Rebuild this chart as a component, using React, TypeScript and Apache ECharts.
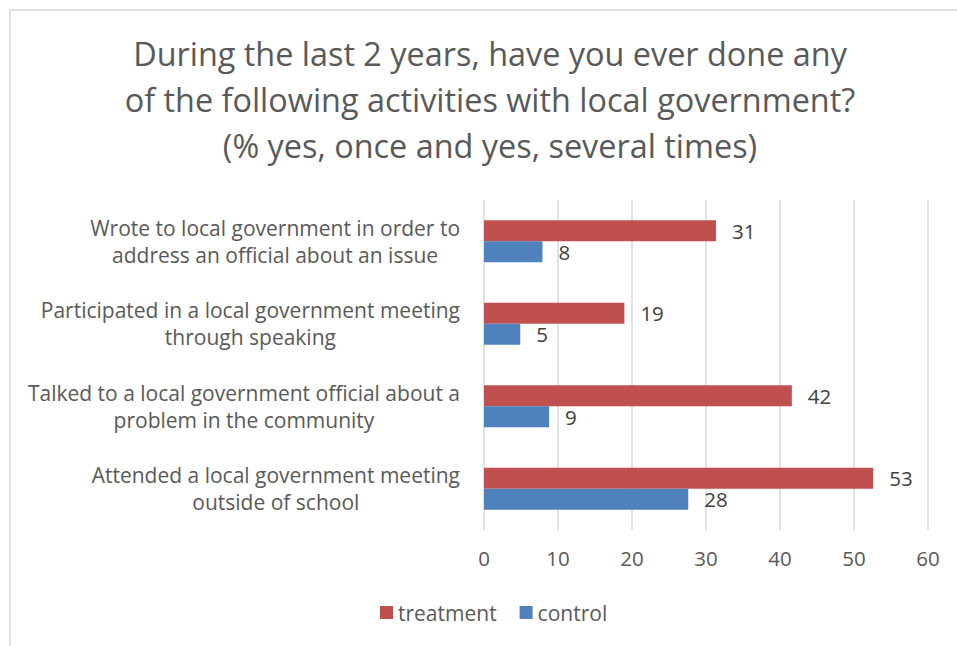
import React, { useEffect, useRef } from "react";
import * as echarts from "echarts";

const titleLines = [
  "During the last 2 years, have you ever done any",
  "of the following activities with local government?",
  "(% yes, once and yes, several times)",
];

const categories = [
  "Wrote to local government in order to\naddress an official about an issue",
  "Participated in a local government meeting\nthrough speaking",
  "Talked to a local government official about a\nproblem in the community",
  "Attended a local government meeting\noutside of school",
];

const treatment = [31.35, 18.97, 41.6, 52.6];
const control = [7.9, 4.9, 8.8, 27.6];

const xTicks = { min: 0, max: 60, interval: 10 };

const FONT = "'Open Sans', 'Noto Sans', sans-serif";

export default function App() {
  const ref = useRef<HTMLDivElement>(null);
  useEffect(() => {
    if (!ref.current) return;
    const chart = echarts.init(ref.current, undefined, { renderer: "svg" });
    chart.setOption({
      animation: false,
      backgroundColor: "#ffffff",
      textStyle: { fontFamily: FONT },
      title: {
        text: titleLines.join("\n"),
        left: 485,
        textAlign: "center",
        top: 25,
        textStyle: {
          fontFamily: FONT,
          fontSize: 32.4,
          fontWeight: "normal",
          color: "#595959",
          lineHeight: 46,
        },
      },
      graphic: [
        {
          type: "rect",
          shape: { x: 10, y: 10, width: 1000, height: 1000 },
          style: { fill: "none", stroke: "#d9d9d9", lineWidth: 1.5 },
          silent: true,
          z: -1,
        },
      ],
      legend: {
        left: 380,
        top: 602,
        padding: 0,
        itemWidth: 13,
        itemHeight: 13,
        itemGap: 23,
        icon: "rect",
        textStyle: { fontFamily: FONT, fontSize: 21, color: "#595959" },
        data: ["treatment", "control"],
      },
      grid: { left: 484, right: 29, top: 200, bottom: 116, containLabel: false },
      xAxis: {
        type: "value",
        min: xTicks.min,
        max: xTicks.max,
        interval: xTicks.interval,
        axisLine: { show: false },
        axisTick: { show: false },
        splitLine: { lineStyle: { color: "#d9d9d9", width: 1.5 } },
        axisLabel: { fontFamily: FONT, fontSize: 20.5, color: "#595959", margin: 17 },
      },
      yAxis: {
        type: "category",
        inverse: true,
        data: categories,
        axisLine: { show: false },
        axisTick: { show: false },
        axisLabel: {
          margin: 24,
          align: "right",
          formatter: (v: string) =>
            v
              .split("\n")
              .map((l) => `{c|${l}}`)
              .join("\n"),
          rich: {
            c: {
              align: "center",
              fontFamily: FONT,
              fontSize: 21,
              color: "#595959",
              lineHeight: 27,
            },
          },
        },
      },
      series: [
        {
          name: "treatment",
          type: "bar",
          data: treatment,
          barWidth: 21,
          barGap: "0%",
          itemStyle: { color: "#C0504D" },
          label: {
            show: true,
            position: "right",
            distance: 16,
            fontFamily: FONT,
            fontSize: 20.5,
            color: "#404040",
            formatter: (p: any) => String(Math.round(p.value)),
          },
        },
        {
          name: "control",
          type: "bar",
          data: control,
          barWidth: 21,
          barGap: "0%",
          itemStyle: { color: "#4F81BD" },
          label: {
            show: true,
            position: "right",
            distance: 16,
            fontFamily: FONT,
            fontSize: 20.5,
            color: "#404040",
            formatter: (p: any) => String(Math.round(p.value)),
          },
        },
      ],
    });
    return () => chart.dispose();
  }, []);
  return (
    <div
      ref={ref}
      style={{ position: "fixed", left: 0, top: 0, width: 957, height: 646 }}
    />
  );
}
